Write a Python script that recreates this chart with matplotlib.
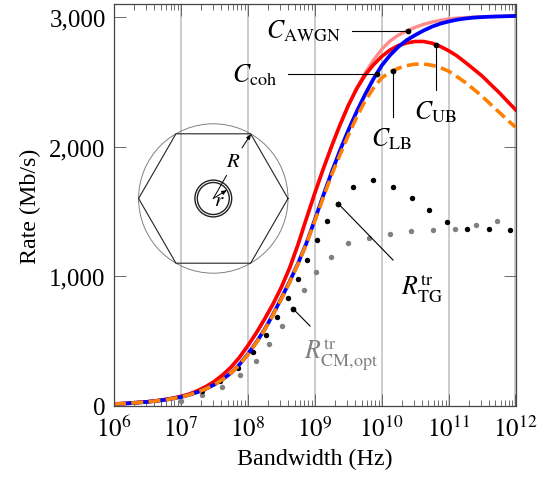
import matplotlib
matplotlib.use('Agg')
import matplotlib.pyplot as plt
import numpy as np

plt.rcParams['font.family'] = ['Liberation Serif', 'DejaVu Serif']
plt.rcParams['mathtext.fontset'] = 'stix'

# curves, read every eighth of a decade
log_f = np.arange(6, 12.01, 0.125)
c_awgn = [16, 19, 23, 28, 33, 40, 49, 60, 74, 92, 118, 150, 190, 240, 300, 375, 465, 562, 670, 785, 915, 1065, 1245, 1445, 1640, 1825, 2000, 2165,
          2318, 2450, 2565, 2665, 2750, 2815, 2860, 2892, 2920, 2943, 2960, 2974, 2984, 2991, 2995, 2999, 3002, 3004, 3005, 3007, 3008]
c_coh = [15, 18, 22, 27, 32, 39, 47, 57, 69, 86, 107, 133, 165, 206, 255, 320, 400, 490, 590, 705, 830, 960, 1100, 1255, 1435, 1620, 1800, 1968,
         2125, 2268, 2400, 2520, 2625, 2705, 2770, 2822, 2860, 2895, 2925, 2948, 2965, 2979, 2988, 2995, 2999, 3002, 3004, 3006, 3008]
c_ub = [16, 19, 23, 28, 33, 40, 49, 60, 74, 92, 118, 150, 190, 240, 300, 375, 465, 562, 670, 785, 915, 1065, 1245, 1445, 1640, 1825, 2000, 2165,
        2315, 2445, 2550, 2630, 2695, 2745, 2780, 2800, 2811, 2811, 2798, 2773, 2740, 2700, 2650, 2598, 2545, 2482, 2420, 2352, 2285]
c_lb = [15, 18, 22, 27, 32, 39, 47, 57, 69, 86, 107, 133, 165, 206, 255, 318, 396, 486, 586, 700, 825, 955, 1095, 1250, 1425, 1605, 1780, 1935,
        2085, 2225, 2350, 2450, 2530, 2575, 2605, 2625, 2636, 2637, 2628, 2610, 2582, 2540, 2495, 2443, 2388, 2328, 2268, 2208, 2150]

# dots
tg_log = [7.32, 7.59, 7.86, 8.08, 8.27, 8.44, 8.60, 8.75, 8.89, 9.03, 9.19, 9.35, 9.57, 9.87, 10.17, 10.45, 10.71, 10.98, 11.28, 11.60, 11.92]
tg_rate = [118, 193, 293, 414, 547, 686, 830, 977, 1126, 1278, 1424, 1560, 1686, 1740, 1691, 1606, 1514, 1421, 1365, 1362, 1359]
cm_log = [7.00, 7.32, 7.62, 7.89, 8.12, 8.32, 8.51, 8.68, 8.84, 9.02, 9.25, 9.50, 9.81, 10.13, 10.44, 10.77, 11.09, 11.41, 11.72]
cm_rate = [41, 87, 144, 237, 349, 480, 615, 750, 897, 1033, 1151, 1254, 1298, 1326, 1352, 1357, 1367, 1396, 1424]

W, H = 539, 481
fig = plt.figure(figsize=(W / 100, H / 100), dpi=100)
ax = fig.add_axes([114 / W, 1 - 407 / H, 401.5 / W, 402 / H])

f = 10.0 ** log_f
ax.grid(True, which='major', axis='x', color='#c8c8c8', lw=1.3, zorder=1)
ax.plot(10.0 ** np.array(cm_log), cm_rate, 'o', color='#808080', ms=3.9, mew=0, zorder=2)
ax.plot(10.0 ** np.array(tg_log), tg_rate, 'o', color='black', ms=3.9, mew=0, zorder=2)
ax.plot(f, c_awgn, color='#ff8a8a', lw=2.4, zorder=3)
ax.plot(f, c_ub, color='red', lw=2.6, zorder=4)
ax.plot(f, c_coh, color='blue', lw=2.7, zorder=5)
ax.plot(f, c_lb, color='#ff8000', lw=2.6, ls=(0, (3.3, 1.5)), zorder=6)

ax.set_xscale('log')
ax.set_xlim(1e6, 1e12)
ax.set_ylim(0, 3100)
ax.set_yticks([0, 1000, 2000, 3000])
ax.set_yticklabels(['0', '1,000', '2,000', '3,000'])
ax.set_xticks([10.0 ** k for k in range(6, 13)])
ax.set_xticklabels(['$10^{%d}$' % k for k in range(6, 13)])
ax.xaxis.set_minor_locator(matplotlib.ticker.LogLocator(base=10, subs=range(2, 10), numticks=20))
ax.xaxis.set_minor_formatter(matplotlib.ticker.NullFormatter())
ax.tick_params(axis='both', which='major', direction='in', top=True, right=True, length=8.5, width=0.6, color='#555555', labelsize=18, pad=6)
ax.tick_params(axis='x', which='minor', direction='in', top=True, length=4, width=0.6, color='#555555')
ax.tick_params(axis='x', which='major', pad=7)
for s in ax.spines.values():
    s.set_linewidth(0.9)
    s.set_color('#444444')
    s.set_zorder(10)
ax.set_xlabel('Bandwidth (Hz)', fontsize=17.3, labelpad=5)
ax.set_ylabel('Rate (Mb/s)', fontsize=17.3, labelpad=6)

# overlay in pixel coordinates for the inset and the callouts
ov = fig.add_axes([0, 0, 1, 1])
ov.set_xlim(0, W)
ov.set_ylim(H, 0)
ov.axis('off')
ov.patch.set_alpha(0)

cx, cy = 213.3, 199.5
ov.add_patch(plt.Circle((cx, cy), 74.7, fill=False, ec='#808080', lw=0.7))
ang = np.deg2rad(np.arange(0, 361, 60))
ov.plot(cx + 74.7 * np.cos(ang), cy + 74.7 * np.sin(ang), color='#222222', lw=0.8)
ov.add_patch(plt.Circle((cx, cy), 18.4, fill=False, ec='#222222', lw=1.0))
ov.add_patch(plt.Circle((cx, cy), 16.0, fill=False, ec='#222222', lw=1.0))
ov.plot([cx, 226.5], [cy, 176.5], color='black', lw=0.7)
ov.annotate('', xy=(251, 135), xytext=(242, 149), arrowprops=dict(arrowstyle='-|>,head_width=0.12,head_length=0.3', lw=0.7, color='black', shrinkA=0, shrinkB=0))
ov.annotate('', xy=(227, 191), xytext=(cx, cy), arrowprops=dict(arrowstyle='-|>,head_width=0.12,head_length=0.3', lw=0.7, color='black', shrinkA=0, shrinkB=0))
ov.text(233, 163, '$R$', fontsize=15, ha='center', va='center')
ov.text(219, 202, '$r$', fontsize=15, ha='center', va='center')

# callouts: label leader lines and dots
leaders = [
    ([351.5, 408], [32, 32]),
    ([288, 377], [75, 75]),
    ([393, 393], [72, 118]),
    ([436, 436], [46, 91]),
    ([338.3, 393], [204.7, 261]),
    ([293, 310], [309.7, 327]),
]
for xs, ys in leaders:
    ov.plot(xs, ys, color='black', lw=0.8)
    ov.plot(xs[-1] if ys[0] == ys[1] else xs[0], ys[0], 'o', color='black', ms=4.1, mew=0)

ov.text(266, 31, r'$C_{\mathrm{AWGN}}$', fontsize=18.5, va='center')
ov.text(232, 75, r'$C_{\mathrm{coh}}$', fontsize=18.5, va='center')
ov.text(371, 139, r'$C_{\mathrm{LB}}$', fontsize=18.5, va='center')
ov.text(414, 112, r'$C_{\mathrm{UB}}$', fontsize=18.5, va='center')
ov.text(401, 288, r'$R_{\mathrm{TG}}^{\mathrm{tr}}$', fontsize=18.5, va='center')
ov.text(304, 354, r'$R_{\mathrm{CM,\!opt}}^{\mathrm{tr}}$', fontsize=18.5, va='center', color='#808080')

fig.savefig('out.png', dpi=100)
